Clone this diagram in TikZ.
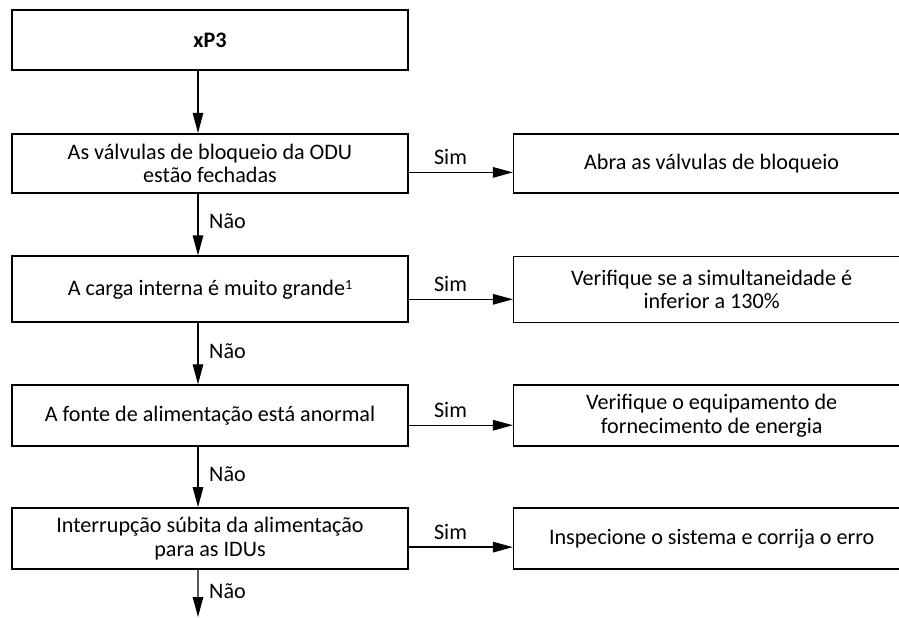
\documentclass[tikz,border=0pt]{standalone}
\usepackage{fontspec}
\setmainfont{Carlito}
\usetikzlibrary{arrows.meta,positioning}
\tikzset{
  stepbox/.style={
    draw=black,line width=1.1pt,fill=white,
    minimum width=7.92cm,align=center,inner sep=2pt,
    font=\fontsize{12.6}{13.2}\selectfont
  },
  actbox/.style={stepbox,line width=0.9pt},
  arrow/.style={-{Triangle[length=0.4cm,width=0.21cm]},line width=0.75pt},
  yes/.style={above,pos=0.4,inner sep=4pt,font=\fontsize{12.6}{13.2}\selectfont},
  no/.style={right,pos=0.45,inner sep=2pt,xshift=4pt,font=\fontsize{12.6}{13.2}\selectfont}
}

\begin{document}
\begin{tikzpicture}[x=0.02cm,y=-0.02cm]
  \useasboundingbox (0,0) rectangle (899,618);

  % main column
  \node[stepbox,minimum height=1.2cm] (xp3) at (210,40) {\textbf{xP3}};
  \node[stepbox,minimum height=1.18cm,below=1.24cm of xp3] (valves)
    {As válvulas de bloqueio da ODU\\estão fechadas};
  \node[stepbox,minimum height=1.32cm,below=1.23cm of valves] (load)
    {A carga interna é muito grande{\fontsize{8}{8}\selectfont\raisebox{0.8ex}{1}}};
  \node[stepbox,minimum height=1.22cm,below=1.22cm of load] (power)
    {A fonte de alimentação está anormal};
  \node[stepbox,minimum height=1.22cm,below=1.2cm of power] (cut)
    {Interrupção súbita da alimentação\\para as IDUs};
  \coordinate (end) at (198,617);

  % actions
  \node[actbox,minimum height=1.18cm,right=2.08cm of valves] (open)
    {Abra as válvulas de bloqueio};
  \node[actbox,minimum height=1.32cm,right=2.08cm of load] (simult)
    {Verifique se a simultaneidade é\\inferior a 130\%};
  \node[actbox,minimum height=1.22cm,right=2.08cm of power] (supply)
    {Verifique o equipamento de\\fornecimento de energia};
  \node[actbox,minimum height=1.22cm,right=2.08cm of cut] (inspect)
    {Inspecione o sistema e corrija o erro};

  \draw[arrow] ([xshift=-0.24cm]xp3.south) -- ([xshift=-0.24cm]valves.north);
  \draw[arrow] ([xshift=-0.24cm]valves.south) -- node[no] {Não} ([xshift=-0.24cm]load.north);
  \draw[arrow] ([xshift=-0.24cm]load.south) -- node[no] {Não} ([xshift=-0.24cm]power.north);
  \draw[arrow] ([xshift=-0.24cm]power.south) -- node[no] {Não} ([xshift=-0.24cm]cut.north);
  \draw[arrow] ([xshift=-0.24cm]cut.south) -- node[no] {Não} (end);

  \draw[arrow] ([yshift=-0.18cm]valves.east) -- node[yes] {Sim} ([yshift=-0.18cm]open.west);
  \draw[arrow] ([yshift=-0.2cm]load.east) -- node[yes] {Sim} ([yshift=-0.2cm]simult.west);
  \draw[arrow] ([yshift=-0.19cm]power.east) -- node[yes] {Sim} ([yshift=-0.19cm]supply.west);
  \draw[arrow] ([yshift=-0.17cm]cut.east) -- node[yes] {Sim} ([yshift=-0.17cm]inspect.west);
\end{tikzpicture}
\end{document}
